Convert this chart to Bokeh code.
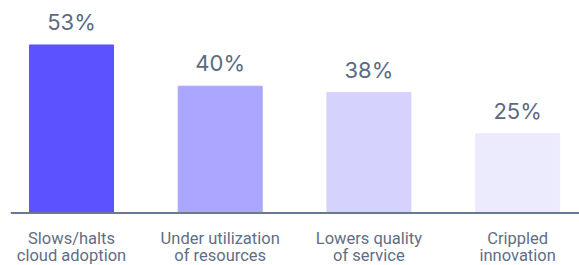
from bokeh.plotting import figure
from bokeh.models import ColumnDataSource, Range1d, Span
from bokeh.core.properties import value
from bokeh.embed import file_html
from bokeh.resources import INLINE

categories = ["Slows/halts\ncloud adoption", "Under utilization\nof resources",
              "Lowers quality\nof service", "Crippled\ninnovation"]
values = [53, 40, 38, 25]
labels = ["53%", "40%", "38%", "25%"]
colors = ["#5c52ff", "#aba6ff", "#d5d3fd", "#ecebfe"]

xs = list(range(len(values)))
line1 = [c.split("\n")[0] for c in categories]
line2 = [c.split("\n")[1] for c in categories]
src = ColumnDataSource(dict(x=xs, top=values, label=labels, color=colors,
                            zero=[0] * len(xs), l1=line1, l2=line2))

p = figure(width=579, height=265, output_backend="svg", toolbar_location=None,
           x_range=Range1d(-0.41, 3.416), y_range=Range1d(-16.56, 67.03),
           min_border_left=10, min_border_right=0, min_border_top=0, min_border_bottom=0)
p.vbar(x="x", top="top", width=0.565, color="color", source=src)
p.text(x="x", y="top", text="label", source=src, text_align="center",
       text_baseline="alphabetic", y_offset=-23, text_font=value("Inter"),
       text_font_size="22px", text_color="#5b6b82")
for col, off in (("l1", 25.5), ("l2", 42.5)):
    p.text(x="x", y="zero", text=col, source=src, text_align="center",
           text_baseline="alphabetic", y_offset=off, text_font=value("Roboto"),
           text_font_size="16.5px", text_color="#5f6e85")

p.add_layout(Span(location=0, dimension="width", line_color="#6b7a91", line_width=2))

p.xaxis.visible = False
p.yaxis.visible = False
p.xgrid.visible = False
p.ygrid.visible = False
p.outline_line_color = None

open("out.html", "w").write(file_html(p, INLINE))
